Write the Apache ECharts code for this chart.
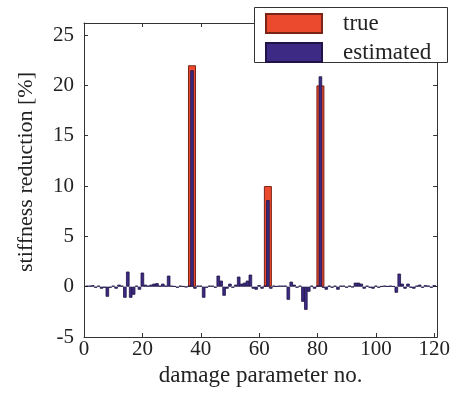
<!DOCTYPE html>
<html>
<head>
<meta charset="utf-8">
<script src="https://cdn.jsdelivr.net/npm/echarts@6/dist/echarts.min.js"></script>
<style>
html,body{margin:0;padding:0;background:#fff;}
#chart{width:453px;height:396px;}
</style>
</head>
<body>
<div id="chart"></div>
<script>
// damaged parameters and their true stiffness reduction [%]
const trueIdx = [37, 63, 81];
const trueVals = [22, 10, 20];
// estimated stiffness reduction [%] for parameters 1..120
const estVals = [
  0.1, 0.1, 0.15, -0.1, 0.1, -0.2, -0.1, -1.0, -0.1, 0.1,
  -0.2, 0.2, 0.1, -1.1, 1.5, -1.1, -0.8, 0.1, -0.3, 1.4,
  0.2, 0.1, 0.2, 0.3, 0.35, 0.1, 0.3, 0.1, 1.1, 0.1,
  0.05, -0.1, 0.1, 0.05, -0.05, 0.1, 21.5, -0.2, 0.1, 0.1,
  -1.1, -0.1, 0.1, 0.1, -0.1, 1.1, 0.6, -0.9, -0.2, 0.3,
  -0.1, 0.2, 1.0, 0.3, 0.4, 0.6, 1.2, -0.2, -0.3, 0.15,
  -0.2, 0.1, 8.6, -0.2, 0.1, 0.05, 0.1, 0.1, 0.1, -1.3,
  0.5, 0.2, -0.1, 0.1, -1.5, -2.3, -0.5, 0.1, -0.2, 0.1,
  20.9, -0.1, -0.3, 0.1, -0.1, 0.1, -0.3, 0.1, 0.1, -0.1,
  0.1, -0.05, 0.4, 0.4, 0.3, -0.2, 0.1, -0.1, -0.2, 0.1,
  -0.1, 0.05, 0.1, 0.05, 0.1, 0.05, -0.6, 1.3, 0.3, -0.2,
  0.3, -0.1, -0.2, 0.1, 0.2, -0.1, 0.15, 0.1, -0.1, 0.15
];
const xTicks = [0, 20, 40, 60, 80, 100, 120];
const yTicks = [-5, 0, 5, 10, 15, 20, 25];
const seriesNames = ['true', 'estimated'];
const xTitle = 'damage parameter no.';
const yTitle = 'stiffness reduction [%]';

const FONT = 'Liberation Serif';
const RED = '#ec4a2e';
const PURPLE = '#3d2a84';
const AX = '#333333';

const trueData = trueIdx.map((x, i) => [x, trueVals[i]]);
const estData = estVals.map((v, i) => [i + 1, v]);

function axisCommon(pos, showLabels, ticks, margin) {
  return {
    position: pos,
    axisLine: {show: true, onZero: false, lineStyle: {color: AX, width: 1}},
    axisTick: {show: true, inside: true, length: 4, lineStyle: {color: AX}},
    splitLine: {show: false},
    axisLabel: {
      show: showLabels, margin: margin,
      fontFamily: FONT, fontSize: 21, color: '#222',
      formatter: v => ticks.indexOf(v) >= 0 ? String(v) : ''
    }
  };
}

const chart = echarts.init(document.getElementById('chart'), null, {renderer: 'canvas'});
chart.setOption({
  animation: false,
  backgroundColor: '#fff',
  grid: {left: 84, right: 15, top: 23, bottom: 59, containLabel: false},
  xAxis: [
    Object.assign({type: 'value', min: 0, max: 121, interval: 20,
      name: xTitle, nameLocation: 'middle', nameGap: 24,
      nameTextStyle: {fontFamily: FONT, fontSize: 23, color: '#222'}},
      axisCommon('bottom', true, xTicks, 2)),
    Object.assign({type: 'value', min: 0, max: 121, interval: 20},
      axisCommon('top', false, xTicks, 2))
  ],
  yAxis: [
    Object.assign({type: 'value', min: -5, max: 26.2, interval: 5},
      axisCommon('left', true, yTicks, 10)),
    Object.assign({type: 'value', min: -5, max: 26.2, interval: 5},
      axisCommon('right', false, yTicks, 10))
  ],
  legend: {
    data: seriesNames,
    orient: 'vertical',
    left: 265, top: 12,
    padding: 0,
    itemWidth: 56, itemHeight: 19, itemGap: 6,
    icon: 'rect',
    z: 10,
    textStyle: {fontFamily: FONT, fontSize: 23, color: '#222', padding: [0, 0, 0, 16]}
  },
  graphic: {
    elements: [
      {
        type: 'rect', z: 9, zlevel: 0,
        shape: {x: 254.5, y: 7.5, width: 193, height: 55},
        style: {fill: '#fff', stroke: AX, lineWidth: 1}
      },
      {
        type: 'text', x: 26, y: 172, rotation: Math.PI / 2,
        style: {text: yTitle, fontFamily: FONT, fontSize: 22, fill: '#222',
                align: 'center', verticalAlign: 'middle'}
      }
    ]
  },
  series: [
    {
      name: seriesNames[0], type: 'bar', xAxisIndex: 0, yAxisIndex: 0,
      barWidth: 8, data: trueData, z: 2,
      itemStyle: {color: RED, borderColor: '#7a2418', borderWidth: 1}
    },
    {
      name: seriesNames[1], type: 'bar', xAxisIndex: 1, yAxisIndex: 0,
      barWidth: 3.5, data: estData, z: 3,
      itemStyle: {color: PURPLE, borderColor: '#1f1445', borderWidth: 0.8}
    }
  ]
});
</script>
</body>
</html>
